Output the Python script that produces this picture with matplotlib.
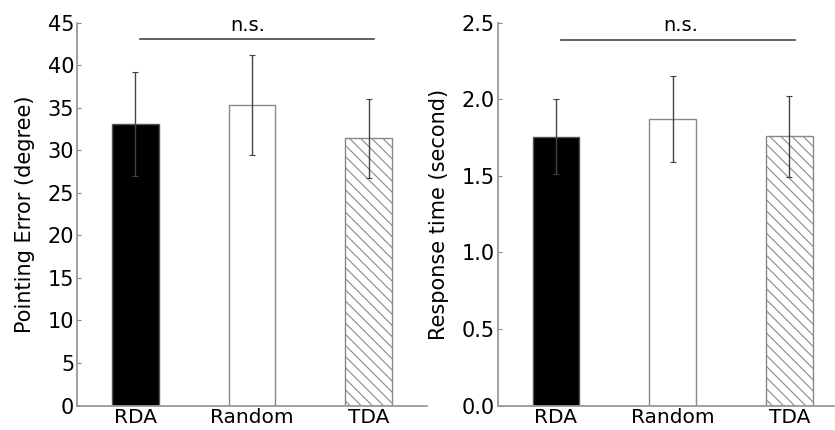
import matplotlib
matplotlib.use("Agg")
import matplotlib.pyplot as plt
import numpy as np

categories = ["RDA", "Random", "TDA"]
error_mean = [33.1, 35.35, 31.4]
error_sem = [6.1, 5.85, 4.6]
rt_mean = [1.754, 1.872, 1.757]
rt_sem = [0.245, 0.28, 0.263]

err_ticks = [0, 5, 10, 15, 20, 25, 30, 35, 40, 45]
rt_ticks = [0.0, 0.5, 1.0, 1.5, 2.0, 2.5]

face = ["black", "white", "white"]
edge = ["#555555", "#888888", "#888888"]
hatches = [None, None, "\\\\\\"]

plt.rcParams["hatch.color"] = "#888888"
plt.rcParams["hatch.linewidth"] = 0.8

fig = plt.figure(figsize=(8.35, 4.3), dpi=100)
bottom = 24.5 / 430
top = 1 - 22.7 / 430
ax1 = fig.add_axes([0.0922, bottom, 0.419, top - bottom])
ax2 = fig.add_axes([0.596, bottom, 0.419, top - bottom])

FS = 15

def draw(ax, means, sems, ymax, ticks, ylabel, ns_y, ns_text_y, ns_x, fmt):
    x = np.arange(len(categories))
    for i in range(len(categories)):
        ax.bar(x[i], means[i], width=0.4, color=face[i], edgecolor=edge[i],
               hatch=hatches[i], linewidth=1.0, zorder=2)
    ax.errorbar(x, means, yerr=sems, fmt="none", ecolor="#444444",
                elinewidth=1.0, capsize=2, capthick=0.8, zorder=3)
    ax.set_xlim(-0.5, 2.5)
    ax.set_ylim(0, ymax)
    ax.set_yticks(ticks)
    ax.set_yticklabels([fmt.format(t) for t in ticks])
    ax.set_xticks(x)
    ax.set_xticklabels(categories)
    ax.tick_params(axis="y", direction="in", length=3, color="#888888",
                   labelsize=FS, pad=2)
    ax.tick_params(axis="x", length=0, labelsize=14.5, pad=1.5)
    for s in ["top", "right"]:
        ax.spines[s].set_visible(False)
    for s in ["left", "bottom"]:
        ax.spines[s].set_color("#999999")
        ax.spines[s].set_linewidth(1.3)
    ax.set_ylabel(ylabel, fontsize=FS, labelpad=9)
    ax.plot([0.04, 2.05], [ns_y, ns_y], color="#444444", lw=1.2, clip_on=False)
    ax.text(ns_x, ns_text_y, "n.s.", ha="center", va="center", fontsize=14)

draw(ax1, error_mean, error_sem, 45, err_ticks, "Pointing Error (degree)",
     43.06, 44.7, 0.96, "{:d}")
draw(ax2, rt_mean, rt_sem, 2.5, rt_ticks, "Response time (second)",
     2.386, 2.48, 1.07, "{:.1f}")

fig.savefig("out.png", dpi=100)
